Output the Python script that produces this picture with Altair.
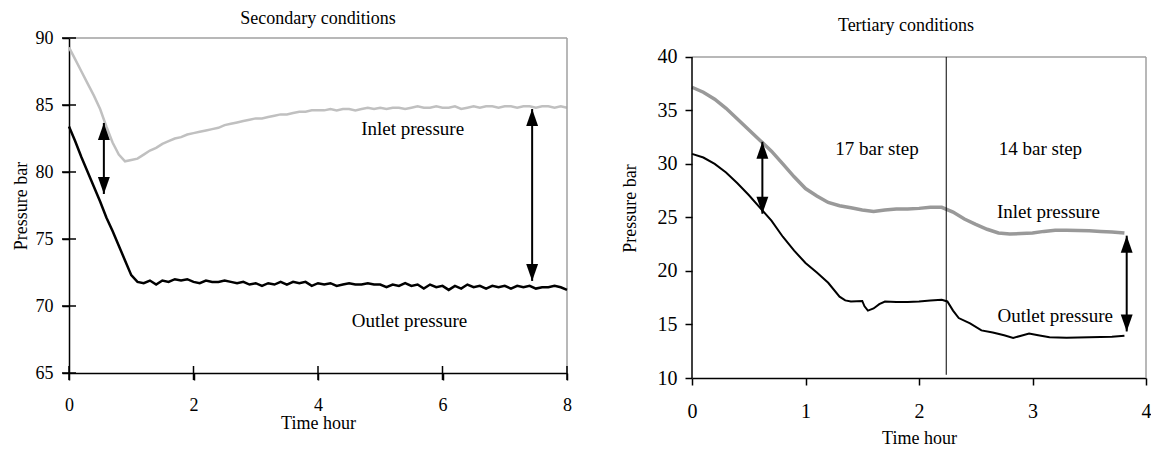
import altair as alt
import pandas as pd

FONT = "Liberation Serif"

# ---------------- Left panel: Secondary conditions ----------------
L_T = [0.0, 0.1, 0.2, 0.3, 0.4, 0.5, 0.6, 0.7, 0.8, 0.9,
       1.0, 1.1, 1.2, 1.3, 1.4, 1.5, 1.6, 1.7, 1.8, 1.9,
       2.0, 2.1, 2.2, 2.3, 2.4, 2.5, 2.6, 2.7, 2.8, 2.9,
       3.0, 3.1, 3.2, 3.3, 3.4, 3.5, 3.6, 3.7, 3.8, 3.9,
       4.0, 4.1, 4.2, 4.3, 4.4, 4.5, 4.6, 4.7, 4.8, 4.9,
       5.0, 5.1, 5.2, 5.3, 5.4, 5.5, 5.6, 5.7, 5.8, 5.9,
       6.0, 6.1, 6.2, 6.3, 6.4, 6.5, 6.6, 6.7, 6.8, 6.9,
       7.0, 7.1, 7.2, 7.3, 7.4, 7.5, 7.6, 7.7, 7.8, 7.9, 8.0]
L_INLET = [89.3, 88.4, 87.5, 86.6, 85.7, 84.7, 83.4, 82.2, 81.3, 80.8,
           80.9, 81.0, 81.3, 81.6, 81.8, 82.1, 82.3, 82.5, 82.6, 82.8,
           82.9, 83.0, 83.1, 83.2, 83.3, 83.5, 83.6, 83.7, 83.8, 83.9,
           84.0, 84.0, 84.1, 84.2, 84.3, 84.3, 84.4, 84.5, 84.5, 84.6,
           84.6, 84.6, 84.7, 84.6, 84.7, 84.7, 84.6, 84.7, 84.8, 84.7,
           84.8, 84.7, 84.8, 84.8, 84.7, 84.8, 84.9, 84.8, 84.8, 84.9,
           84.8, 84.8, 84.9, 84.7, 84.8, 84.9, 84.8, 84.9, 84.9, 84.8,
           84.9, 84.9, 84.8, 84.9, 84.9, 84.8, 84.9, 84.9, 84.8, 84.9, 84.8]
L_OUTLET = [83.4, 82.3, 81.1, 80.0, 78.9, 77.8, 76.6, 75.6, 74.5, 73.4,
            72.3, 71.8, 71.7, 71.9, 71.6, 71.9, 71.8, 72.0, 71.9, 72.0,
            71.8, 71.7, 71.9, 71.8, 71.8, 71.9, 71.8, 71.7, 71.8, 71.6,
            71.7, 71.5, 71.7, 71.6, 71.8, 71.6, 71.8, 71.7, 71.8, 71.5,
            71.7, 71.6, 71.7, 71.5, 71.6, 71.7, 71.6, 71.6, 71.7, 71.6,
            71.6, 71.4, 71.6, 71.5, 71.7, 71.5, 71.6, 71.3, 71.6, 71.4,
            71.5, 71.2, 71.5, 71.3, 71.6, 71.4, 71.5, 71.3, 71.5, 71.4,
            71.5, 71.3, 71.5, 71.4, 71.5, 71.3, 71.4, 71.4, 71.5, 71.4, 71.2]
L_XTICKS = [0, 2, 4, 6, 8]
L_YTICKS = [65, 70, 75, 80, 85, 90]
L_ARROW_T = [0.56, 7.44]
L_ARROW_TOP = [83.66, 84.7]
L_ARROW_BOT = [78.36, 71.87]
L_TEXT = ["Inlet pressure", "Outlet pressure"]
L_TEXT_T = [5.52, 5.47]
L_TEXT_P = [83.2, 68.9]

# ---------------- Right panel: Tertiary conditions ----------------
R_T_IN = [0.0, 0.1, 0.2, 0.3, 0.4, 0.5, 0.6, 0.7, 0.8, 0.9,
          1.0, 1.1, 1.2, 1.3, 1.4, 1.5, 1.6, 1.7, 1.8, 1.9,
          2.0, 2.1, 2.2, 2.3, 2.4, 2.5, 2.6, 2.7, 2.8, 2.9,
          3.0, 3.1, 3.2, 3.3, 3.4, 3.5, 3.6, 3.7, 3.81]
R_INLET = [37.17, 36.7, 36.05, 35.2, 34.2, 33.2, 32.2, 31.2, 30.0, 28.8,
           27.7, 27.0, 26.4, 26.1, 25.9, 25.7, 25.55, 25.7, 25.8, 25.8,
           25.85, 25.95, 25.95, 25.5, 24.85, 24.35, 23.9, 23.55, 23.45, 23.5,
           23.55, 23.7, 23.8, 23.8, 23.78, 23.75, 23.7, 23.65, 23.55]
R_T_OUT = [0.0, 0.1, 0.2, 0.3, 0.4, 0.5, 0.6, 0.7, 0.8, 0.9,
           1.0, 1.1, 1.2, 1.3, 1.35, 1.4, 1.5, 1.52, 1.55, 1.6,
           1.65, 1.7, 1.8, 1.9, 2.0, 2.1, 2.2, 2.25, 2.3, 2.35,
           2.45, 2.55, 2.65, 2.75, 2.83, 2.9, 2.97, 3.05, 3.15, 3.3,
           3.5, 3.7, 3.81]
R_OUTLET = [30.94, 30.6, 30.0, 29.2, 28.2, 27.1, 25.9, 24.7, 23.2, 21.9,
            20.75, 19.85, 18.9, 17.6, 17.25, 17.15, 17.2, 16.7, 16.3, 16.5,
            16.9, 17.15, 17.1, 17.1, 17.15, 17.25, 17.3, 17.15, 16.3, 15.6,
            15.1, 14.45, 14.25, 14.0, 13.75, 13.95, 14.15, 14.0, 13.8, 13.75,
            13.8, 13.85, 13.95]
R_XTICKS = [0, 1, 2, 3, 4]
R_YTICKS = [10, 15, 20, 25, 30, 35, 40]
R_STEP_T = 2.24
R_ARROW_T = [0.62, 3.83]
R_ARROW_TOP = [32.07, 23.3]
R_ARROW_BOT = [25.35, 14.35]
R_TEXT = ["17 bar step", "14 bar step", "Inlet pressure", "Outlet pressure"]
R_TEXT_T = [1.63, 3.07, 3.14, 3.2]
R_TEXT_P = [31.4, 31.4, 25.53, 15.82]

UP_HEAD = "M0,0L-0.7,2L0.7,2Z"
DOWN_HEAD = "M0,0L-0.7,-2L0.7,-2Z"


def build_panel(t_in, inlet, t_out, outlet, xdom, ydom, yframe, xticks, yticks,
                w, h, inlet_color, inlet_w, outlet_w, arrows, texts, title,
                crossing, xlab_pad, xtitle_pad, ylab_pad, ytitle_pad, tick_font,
                extra_rules=None):
    xs = alt.Scale(domain=xdom, nice=False, zero=False)
    ys = alt.Scale(domain=ydom, nice=False, zero=False)
    xaxis = alt.Axis(values=xticks, title="Time hour", tickSize=7, labelPadding=xlab_pad,
                     titlePadding=xtitle_pad, labelFontSize=tick_font, format="d",
                     labelFlush=False)
    yaxis = alt.Axis(values=yticks, title="Pressure bar", tickSize=7, labelPadding=ylab_pad,
                     titlePadding=ytitle_pad, labelFontSize=tick_font, format="d",
                     domain=(yframe is None))

    def X(f):
        return alt.X(f, scale=xs, axis=xaxis)

    def Y(f):
        return alt.Y(f, scale=ys, axis=yaxis)

    df_in = pd.DataFrame({"t": t_in, "p": inlet})
    df_out = pd.DataFrame({"t": t_out, "p": outlet})

    layers = []
    layers.append(alt.Chart(df_in).mark_line(color=inlet_color, strokeWidth=inlet_w).encode(
        x=X("t:Q"), y=Y("p:Q")))

    # frame: top and right borders in grey
    top_v = yframe[1] if yframe else ydom[1]
    bot_v = yframe[0] if yframe else ydom[0]
    frame = pd.DataFrame({"t": [xdom[0], xdom[1]], "t2": [xdom[1], xdom[1]],
                          "p": [top_v, bot_v], "p2": [top_v, top_v]})
    layers.append(alt.Chart(frame).mark_rule(color="#a0a0a0", strokeWidth=1.5).encode(
        x=X("t:Q"), x2="t2:Q", y=Y("p:Q"), y2="p2:Q"))
    if yframe:
        ax = pd.DataFrame({"t": [xdom[0]], "p": [bot_v], "p2": [top_v]})
        layers.append(alt.Chart(ax).mark_rule(color="black", strokeWidth=1.5).encode(
            x=X("t:Q"), y=Y("p:Q"), y2="p2:Q"))
    if extra_rules is not None:
        layers.append(alt.Chart(extra_rules).mark_rule(color="black", strokeWidth=1).encode(
            x=X("t:Q"), y=Y("p:Q"), y2="p2:Q"))
    if crossing:
        layers.append(alt.Chart(pd.DataFrame({"p": yticks})).mark_rule(
            color="black", strokeWidth=1.5).encode(
            y=Y("p:Q"), x=alt.value(-7), x2=alt.value(7)))
        layers.append(alt.Chart(pd.DataFrame({"t": xticks})).mark_rule(
            color="black", strokeWidth=1.5).encode(
            x=X("t:Q"), y=alt.value(h - 7), y2=alt.value(h + 7)))

    layers.append(alt.Chart(df_out).mark_line(color="black", strokeWidth=outlet_w).encode(
        x=X("t:Q"), y=Y("p:Q")))

    at, atop, abot = arrows
    arr = pd.DataFrame({"t": at, "p": atop, "p2": abot})
    layers.append(alt.Chart(arr).mark_rule(color="black", strokeWidth=2).encode(
        x=X("t:Q"), y=Y("p:Q"), y2="p2:Q"))
    layers.append(alt.Chart(arr).mark_point(shape=UP_HEAD, size=289, filled=True,
                                            fill="black", strokeWidth=0, opacity=1).encode(
        x=X("t:Q"), y=Y("p:Q")))
    layers.append(alt.Chart(arr).mark_point(shape=DOWN_HEAD, size=289, filled=True,
                                            fill="black", strokeWidth=0, opacity=1).encode(
        x=X("t:Q"), y=Y("p2:Q")))

    txt, tt, tp = texts
    tdf = pd.DataFrame({"label": txt, "t": tt, "p": tp})
    layers.append(alt.Chart(tdf).mark_text(font=FONT, fontSize=19, color="black",
                                           align="center", baseline="middle").encode(
        x=X("t:Q"), y=Y("p:Q"), text="label:N"))

    return alt.layer(*layers).properties(width=w, height=h, title=title)


left = build_panel(
    L_T, L_INLET, L_T, L_OUTLET, [0, 8], [65, 90], None, L_XTICKS, L_YTICKS,
    498, 335, "#c0c0c0", 2.5, 2.5,
    (L_ARROW_T, L_ARROW_TOP, L_ARROW_BOT), (L_TEXT, L_TEXT_T, L_TEXT_P),
    alt.TitleParams("Secondary conditions", font=FONT, fontSize=18, fontWeight="normal",
                    color="black", anchor="middle", baseline="alphabetic", offset=-13),
    True, 16, 0, 9, 5, 18)

right_rules = pd.DataFrame({"t": [R_STEP_T], "p": [10.3], "p2": [40]})
right = build_panel(
    R_T_IN, R_INLET, R_T_OUT, R_OUTLET, [0, 4], [10, 41.77], [10, 40], R_XTICKS, R_YTICKS,
    454, 340, "#999999", 3.5, 2,
    (R_ARROW_T, R_ARROW_TOP, R_ARROW_BOT), (R_TEXT, R_TEXT_T, R_TEXT_P),
    alt.TitleParams("Tertiary conditions", font=FONT, fontSize=18, fontWeight="normal",
                    color="black", anchor="middle", baseline="alphabetic", offset=-11, dx=-13),
    False, 16, 8, 8, 18, 20, extra_rules=right_rules)

chart = alt.hconcat(left, right, spacing=125, bounds="flush").properties(
    padding={"left": 12, "top": 10, "right": 0, "bottom": 0}
).configure_view(stroke=None).configure_axis(
    grid=False, domainColor="black", domainWidth=1.5, tickColor="black", tickWidth=1.5,
    labelFont=FONT, labelColor="black", titleFont=FONT, titleFontSize=18,
    titleFontWeight="normal", titleColor="black"
)

chart.save("out.html", embed_options={"renderer": "svg", "actions": False})
